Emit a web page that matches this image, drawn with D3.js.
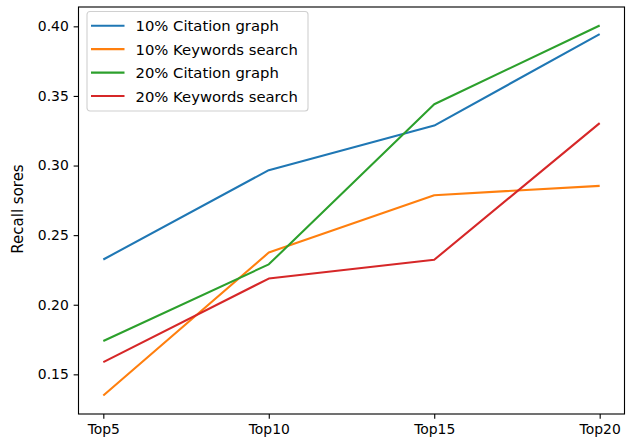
<!DOCTYPE html>
<html>
<head>
<meta charset="utf-8">
<script src="https://cdn.jsdelivr.net/npm/d3@7/dist/d3.min.js"></script>
<style>
  html, body { margin: 0; padding: 0; background: #fff; }
  svg { display: block; }
  text { font-family: "DejaVu Sans", sans-serif; fill: #000; }
</style>
</head>
<body>
<svg id="chart" width="626" height="442"></svg>
<script>
// Categories along the x axis
const categories = ["Top5", "Top10", "Top15", "Top20"];

// Recall per series
const citation10 = [0.2325, 0.2967, 0.3287, 0.3944];
const keywords10 = [0.1348, 0.2375, 0.2787, 0.2854];
const citation20 = [0.1740, 0.2290, 0.3440, 0.4006];
const keywords20 = [0.1588, 0.2188, 0.2323, 0.3305];

const seriesNames = ["10% Citation graph", "10% Keywords search", "20% Citation graph", "20% Keywords search"];
const seriesColors = ["#1f77b4", "#ff7f0e", "#2ca02c", "#d62728"];
const yTicks = [0.15, 0.20, 0.25, 0.30, 0.35, 0.40];
const yLabel = "Recall sores";

const series = [citation10, keywords10, citation20, keywords20].map((values, i) => ({
  name: seriesNames[i], color: seriesColors[i], values
}));

const svg = d3.select("#chart");
const plotLeft = 78.5, plotRight = 624.5, plotTop = 7, plotBottom = 414;
const fontPx = 13.9, labelPx = 15, legendPx = 14.8, tickLen = 4.86, pad = 4.86;

// x: category index with 5% margins on each side
const n = categories.length - 1;
const x = d3.scaleLinear().domain([-0.05 * n, n * 1.05]).range([plotLeft, plotRight]);

// y: data extent with 5% margins
const allVals = series.flatMap(s => s.values);
const lo = d3.min(allVals), hi = d3.max(allVals), m = (hi - lo) * 0.05;
const y = d3.scaleLinear().domain([lo - m, hi + m]).range([plotBottom, plotTop]);

// lines
const line = d3.line().x((d, i) => x(i)).y(d => y(d));
const plot = svg.append("g");
series.forEach(s => {
  plot.append("path")
    .attr("d", line(s.values))
    .attr("fill", "none")
    .attr("stroke", s.color)
    .attr("stroke-width", 2.08)
    .attr("stroke-linejoin", "round")
    .attr("stroke-linecap", "butt");
});

// axes
const xAxis = d3.axisBottom(x)
  .tickValues(d3.range(categories.length))
  .tickFormat(i => categories[i])
  .tickSize(tickLen).tickPadding(pad);
const yAxis = d3.axisLeft(y)
  .tickValues(yTicks)
  .tickFormat(d3.format(".2f"))
  .tickSize(tickLen).tickPadding(pad);

const gx = svg.append("g").attr("transform", `translate(0,${plotBottom})`).call(xAxis);
const gy = svg.append("g").attr("transform", `translate(${plotLeft},0)`).call(yAxis);
[gx, gy].forEach(g => {
  g.select(".domain").remove();
  g.selectAll(".tick line").attr("stroke", "#000").attr("stroke-width", 1.11);
  g.selectAll(".tick text").attr("font-size", fontPx).attr("font-family", "DejaVu Sans").attr("fill", "#000");
});

// frame
svg.append("rect")
  .attr("x", plotLeft).attr("y", plotTop)
  .attr("width", plotRight - plotLeft).attr("height", plotBottom - plotTop)
  .attr("fill", "none").attr("stroke", "#000").attr("stroke-width", 1.11);

// y label
svg.append("text")
  .attr("transform", `translate(18,209) rotate(-90)`)
  .attr("text-anchor", "middle")
  .attr("dominant-baseline", "central")
  .attr("font-size", labelPx)
  .text(yLabel);

// legend
const lg = svg.append("g").attr("transform", "translate(87,11.5)");
lg.append("rect")
  .attr("x", 0).attr("y", 0).attr("width", 221).attr("height", 99.5)
  .attr("rx", 3).attr("ry", 3)
  .attr("fill", "#fff").attr("fill-opacity", 0.8)
  .attr("stroke", "#d0d0d0").attr("stroke-width", 1.11);
series.forEach((s, i) => {
  const cy = 14.2 + i * 23.45;
  lg.append("line")
    .attr("x1", 4).attr("x2", 37.5).attr("y1", cy).attr("y2", cy)
    .attr("stroke", s.color).attr("stroke-width", 2.08);
  lg.append("text")
    .attr("x", 48.5).attr("y", cy)
    .attr("dominant-baseline", "central")
    .attr("font-size", legendPx)
    .text(s.name);
});
</script>
</body>
</html>
